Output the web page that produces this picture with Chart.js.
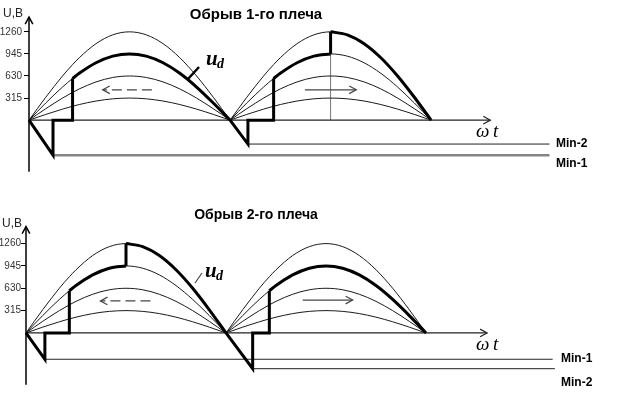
<!DOCTYPE html>
<html>
<head>
<meta charset="utf-8">
<script src="https://cdn.jsdelivr.net/npm/chart.js@4"></script>
<style>
  body { margin: 0; background: #fff; width: 621px; height: 401px; position: relative; overflow: hidden; }
  .box { position: absolute; left: 0; width: 621px; }
  #top { top: 0; height: 200px; }
  #bot { top: 200px; height: 201px; }
</style>
</head>
<body>
<div class="box" id="top"><canvas id="c1"></canvas></div>
<div class="box" id="bot"><canvas id="c2"></canvas></div>
<script>
// y ticks and amplitudes of the phase voltage family (V)
const yTicks = [315, 630, 945, 1260];
const amplitudes = [315, 630, 945, 1260];
// half-wave shape, phase in degrees
const phase = [0, 15, 30, 39, 45, 60, 75, 90, 105, 120, 135, 150, 165, 180];
const halfWave = [0, 0.259, 0.5, 0.629, 0.707, 0.866, 0.966, 1, 0.966, 0.866, 0.707, 0.5, 0.259, 0];
const fireAngle = 39;   // where u_d rises
const jumpAngle = 90;   // where u_d jumps to the top curve
const baseLevel = 945;
const topLevel = 1260;

// panel 1: Обрыв 1-го плеча
const p1DipAt = [21.5, 196];
const p1DipV = [-499, -341];
const p1Jump = [false, true];
const p1MinNames = ['Min-1', 'Min-2'];
const p1MinEnd = [466, 466];
const p1ArrowLeft = [110, 66], p1ArrowLeftV = 433;
const p1ArrowRight = [247, 293], p1ArrowRightV = 433;
const p1YAxis = [-735, 1470], p1XAxisEnd = 413;

// panel 2: Обрыв 2-го плеча
const p2DipAt = [17, 204];
const p2DipV = [-371, -504];
const p2Jump = [true, false];
const p2MinNames = ['Min-1', 'Min-2'];
const p2MinEnd = [474, 476];
const p2ArrowLeft = [112, 67], p2ArrowLeftV = 451;
const p2ArrowRight = [249, 294], p2ArrowRightV = 464;
const p2YAxis = [-729, 1499], p2XAxisEnd = 415;

function line(points, style) {
  return Object.assign({
    data: points.map(([x, y]) => ({ x, y })),
    clip: false, pointRadius: 0, tension: 0, fill: false, order: 1
  }, style);
}

function curve(amp, offset, from, to, style) {
  const pts = [];
  phase.forEach((p, i) => {
    if (p >= from && p <= to) pts.push([offset + p, amp * halfWave[i]]);
  });
  return line(pts, Object.assign({ cubicInterpolationMode: 'monotone' }, style));
}

function buildDatasets(dipAt, dipV, jump, minEnd, yAxis, xEnd, arrL, arrLV, arrR, arrRV, extra) {
  const thin = { borderColor: '#1a1a1a', borderWidth: 1, order: 3 };
  const thick = { borderColor: '#000', borderWidth: 3, order: 0 };
  const ds = [];
  ds.push(line([[0, yAxis[0]], [0, yAxis[1]]], { borderColor: '#000', borderWidth: 1.5, arrow: true, order: 2 }));
  ds.push(line([[0, 0], [xEnd, 0]], { borderColor: '#222', borderWidth: 1.2, arrow: true, order: 2 }));
  ds.push(line([[arrL[0], arrLV], [arrL[1], arrLV]], { borderColor: '#444', borderWidth: 1.2, borderDash: [10, 5], arrow: true, order: 2 }));
  ds.push(line([[arrR[0], arrRV], [arrR[1], arrRV]], { borderColor: '#444', borderWidth: 1.2, arrow: true, order: 2 }));
  for (let k = 0; k < 2; k++) {
    const off = k * 180;
    amplitudes.forEach(a => ds.push(curve(a, off, 0, 180, thin)));
    const fireV = baseLevel * halfWave[phase.indexOf(fireAngle)];
    ds.push(line([[off, 0], [dipAt[k], dipV[k]], [dipAt[k], 0], [off + fireAngle, 0], [off + fireAngle, fireV]], thick));
    if (jump[k]) {
      ds.push(curve(baseLevel, off, fireAngle, jumpAngle, thick));
      ds.push(line([[off + jumpAngle, baseLevel], [off + jumpAngle, topLevel]], thick));
      ds.push(curve(topLevel, off, jumpAngle, 180, thick));
    } else {
      ds.push(curve(baseLevel, off, fireAngle, 180, thick));
    }
  }
  return ds.concat(extra(dipAt, dipV, minEnd));
}

// open arrowheads + text annotations
const decor = {
  id: 'decor',
  afterDatasetsDraw(chart, args, opts) {
    const ctx = chart.ctx;
    chart.data.datasets.forEach((ds, i) => {
      if (!ds.arrow) return;
      const pts = chart.getDatasetMeta(i).data;
      const a = pts[pts.length - 2], b = pts[pts.length - 1];
      const ang = Math.atan2(b.y - a.y, b.x - a.x), L = 8;
      ctx.save();
      ctx.strokeStyle = ds.borderColor;
      ctx.lineWidth = ds.borderWidth;
      ctx.beginPath();
      ctx.moveTo(b.x - L * Math.cos(ang - 0.5), b.y - L * Math.sin(ang - 0.5));
      ctx.lineTo(b.x, b.y);
      ctx.lineTo(b.x - L * Math.cos(ang + 0.5), b.y - L * Math.sin(ang + 0.5));
      ctx.stroke();
      ctx.restore();
    });
    ctx.save();
    (opts.lines || []).forEach(l => {
      ctx.strokeStyle = l.color; ctx.lineWidth = l.width;
      ctx.beginPath(); ctx.moveTo(l.x1, l.y1); ctx.lineTo(l.x2, l.y2); ctx.stroke();
    });
    (opts.texts || []).forEach(t => {
      ctx.font = t.font;
      ctx.fillStyle = t.color || '#000';
      ctx.textAlign = t.align || 'left';
      ctx.textBaseline = 'alphabetic';
      ctx.fillText(t.text, t.x, t.y);
    });
    ctx.restore();
  }
};

function makeChart(id, datasets, axisW, pad, yMin, yMax, xMax, texts, lines) {
  return new Chart(document.getElementById(id), {
    type: 'line',
    data: { datasets },
    options: {
      responsive: true,
      maintainAspectRatio: false,
      animation: false,
      layout: { padding: 0 },
      plugins: {
        legend: { display: false },
        tooltip: { enabled: false },
        decor: { texts, lines }
      },
      scales: {
        x: { type: 'linear', display: false, min: 0, max: xMax },
        y: {
          min: yMin, max: yMax,
          afterFit: s => { s.width = axisW; },
          afterBuildTicks: s => { s.ticks = yTicks.map(v => ({ value: v })); },
          border: { display: false },
          grid: { drawOnChartArea: false, tickLength: 5, color: '#000' },
          ticks: { padding: pad, color: '#333', font: { family: 'Arial', size: 10 }, callback: v => String(v) }
        }
      }
    },
    plugins: [decor]
  });
}

const ud = (x, y) => [
  { text: 'u', x: x, y: y, font: 'italic bold 21px "Liberation Serif"' },
  { text: 'd', x: x + 11, y: y + 3, font: 'italic bold 14px "Liberation Serif"' }
];
const wt = (x, y) => [
  { text: 'ω', x: x, y: y, font: 'italic 19px "Liberation Serif"' },
  { text: 't', x: x + 17, y: y, font: 'italic 19px "Liberation Serif"' }
];

makeChart('c1',
  buildDatasets(p1DipAt, p1DipV, p1Jump, p1MinEnd, p1YAxis, p1XAxisEnd, p1ArrowLeft, p1ArrowLeftV, p1ArrowRight, p1ArrowRightV,
    (dipAt, dipV, minEnd) => [
      line([[dipAt[0], dipV[0]], [minEnd[0], dipV[0]]], { borderColor: '#858585', borderWidth: 2.5, order: 2 }),
      line([[dipAt[1], dipV[1]], [minEnd[1], dipV[1]]], { borderColor: '#222', borderWidth: 1, order: 2 }),
      line([[270, 0], [270, topLevel]], { borderColor: '#777', borderWidth: 1, order: 4 })
    ]),
  29, 2, -1025, 1600, 530,
  [
    { text: 'Обрыв 1-го плеча', x: 256, y: 19, font: 'bold 15px Arial', align: 'center' },
    { text: 'U,B', x: 3, y: 17, font: '12px Arial', color: '#222' },
    { text: p1MinNames[1], x: 556, y: 147, font: 'bold 12px Arial' },
    { text: p1MinNames[0], x: 556, y: 167, font: 'bold 12px Arial' }
  ].concat(ud(206, 65), wt(476, 137)),
  [{ x1: 188, y1: 79, x2: 199, y2: 67, color: '#000', width: 2.5 }]
);

makeChart('c2',
  buildDatasets(p2DipAt, p2DipV, p2Jump, p2MinEnd, p2YAxis, p2XAxisEnd, p2ArrowLeft, p2ArrowLeftV, p2ArrowRight, p2ArrowRightV,
    (dipAt, dipV, minEnd) => [
      line([[dipAt[0], dipV[0]], [minEnd[0], dipV[0]]], { borderColor: '#222', borderWidth: 1, order: 2 }),
      line([[dipAt[1], dipV[1]], [minEnd[1], dipV[1]]], { borderColor: '#222', borderWidth: 1, order: 2 })
    ]),
  26, 0, -875, 1790, 535.5,
  [
    { text: 'Обрыв 2-го плеча', x: 256, y: 19, font: 'bold 14px Arial', align: 'center' },
    { text: 'U,B', x: 2, y: 27, font: '12px Arial', color: '#222' },
    { text: p2MinNames[0], x: 561, y: 162, font: 'bold 12px Arial' },
    { text: p2MinNames[1], x: 561, y: 186, font: 'bold 12px Arial' }
  ].concat(ud(205, 77), wt(476, 150)),
  [{ x1: 195, y1: 83, x2: 202, y2: 73, color: '#444', width: 1.2 }]
);
</script>
</body>
</html>
